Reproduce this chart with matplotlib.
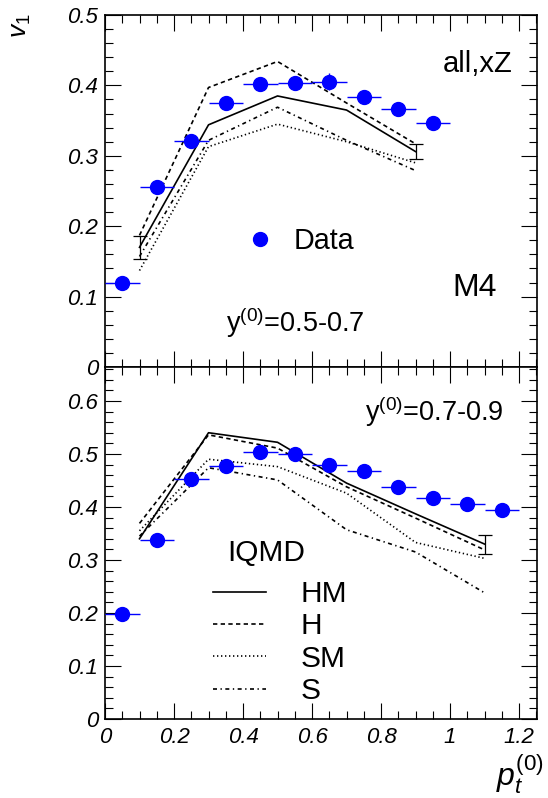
import numpy as np
import matplotlib
matplotlib.use('Agg')
import matplotlib.pyplot as plt
from matplotlib.ticker import MultipleLocator

plt.rcParams['font.family'] = ['Liberation Sans', 'DejaVu Sans']
plt.rcParams['mathtext.fontset'] = 'custom'
plt.rcParams['mathtext.rm'] = 'Liberation Sans'
plt.rcParams['mathtext.it'] = 'Liberation Sans:italic'
plt.rcParams['mathtext.bf'] = 'Liberation Sans:bold'

# ---------------- data: top panel, y(0)=0.5-0.7 ----------------
pt_top = [0.05, 0.15, 0.25, 0.35, 0.45, 0.55, 0.65, 0.75, 0.85, 0.95]
v1_top = [0.119, 0.255, 0.321, 0.375, 0.402, 0.403, 0.405, 0.383, 0.366, 0.347]
v1_top_err = [0.010, 0.004, 0.004, 0.004, 0.004, 0.004, 0.012, 0.004, 0.004, 0.004]

pt_model_top = [0.1, 0.3, 0.5, 0.7, 0.9]
hm_top = [0.170, 0.344, 0.385, 0.365, 0.306]
h_top = [0.187, 0.397, 0.434, 0.375, 0.317]
sm_top = [0.137, 0.313, 0.345, 0.320, 0.290]
s_top = [0.157, 0.322, 0.369, 0.322, 0.279]
hm_top_err = [0.016, 0.0, 0.0, 0.0, 0.011]

# ---------------- data: bottom panel, y(0)=0.7-0.9 ----------------
pt_bot = [0.05, 0.15, 0.25, 0.35, 0.45, 0.55, 0.65, 0.75, 0.85, 0.95, 1.05, 1.15]
v1_bot = [0.198, 0.338, 0.452, 0.478, 0.503, 0.499, 0.479, 0.468, 0.437, 0.417, 0.405, 0.394]
v1_bot_err = [0.012, 0.004, 0.004, 0.004, 0.004, 0.004, 0.004, 0.004, 0.004, 0.004, 0.004, 0.004]

pt_model_bot = [0.1, 0.3, 0.5, 0.7, 0.9, 1.1]
hm_bot = [0.340, 0.540, 0.522, 0.445, 0.387, 0.330]
h_bot = [0.369, 0.536, 0.511, 0.438, 0.379, 0.319]
sm_bot = [0.355, 0.490, 0.476, 0.426, 0.333, 0.303]
s_bot = [0.345, 0.474, 0.451, 0.357, 0.315, 0.238]
hm_bot_err = [0.0, 0.0, 0.0, 0.0, 0.0, 0.018]

pt_bin_halfwidth = 0.05

model_labels = ['HM', 'H', 'SM', 'S']

# ---------------- styling ----------------
W, H = 548, 798
def fx(px):
    return px / W
def fy(py):
    return 1 - py / H

LW = 1.2
styles = {
    'HM': dict(color='black', lw=LW, linestyle='-'),
    'H': dict(color='black', lw=LW, linestyle=(0, (2.6, 2.0))),
    'SM': dict(color='black', lw=LW, linestyle=(0, (0.8, 1.6))),
    'S': dict(color='black', lw=LW, linestyle=(0, (2.4, 2.1, 0.8, 2.1))),
}
BLUE = '#0000ff'

fig = plt.figure(figsize=(W / 100, H / 100), dpi=100)
left, right = 105, 537
ax1 = fig.add_axes([fx(left), fy(367), (right - left) / W, (367 - 15) / H])
ax2 = fig.add_axes([fx(left), fy(719), (right - left) / W, (719 - 367) / H])


def draw_panel(ax, pt, v, verr, ptm, models, hm_err):
    handles = {}
    for name, vals in zip(model_labels, models):
        ln, = ax.plot(ptm, vals, zorder=2, **styles[name])
        handles[name] = ln
    # model error bars (end points)
    sel = [i for i, e in enumerate(hm_err) if e > 0]
    ax.errorbar([ptm[i] for i in sel], [models[0][i] for i in sel],
                yerr=[hm_err[i] for i in sel], fmt='none', ecolor='black',
                elinewidth=0.9, capsize=5, capthick=0.9, zorder=2)
    eb = ax.errorbar(pt, v, xerr=pt_bin_halfwidth, yerr=verr, fmt='o',
                     color=BLUE, ms=10, mec=BLUE, mfc=BLUE, ecolor=BLUE,
                     elinewidth=1.0, capsize=0, zorder=5)
    return handles, eb


models_top = [hm_top, h_top, sm_top, s_top]
models_bot = [hm_bot, h_bot, sm_bot, s_bot]
h_top_handles, eb_top = draw_panel(ax1, pt_top, v1_top, v1_top_err, pt_model_top, models_top, hm_top_err)
h_bot_handles, eb_bot = draw_panel(ax2, pt_bot, v1_bot, v1_bot_err, pt_model_bot, models_bot, hm_bot_err)

# axes limits and ticks
xticks = np.round(np.arange(0, 1.21, 0.2), 2)
xticklabels = ['%g' % t for t in xticks]
for ax, ytop, ymaj in [(ax1, 0.5, np.round(np.arange(0, 0.51, 0.1), 2)),
                       (ax2, 0.664, np.round(np.arange(0, 0.61, 0.1), 2))]:
    ax.set_xlim(0, 1.252)
    ax.set_ylim(0, ytop)
    ax.set_xticks(xticks, xticklabels, fontstyle='italic')
    ax.set_yticks(ymaj, ['%g' % t for t in ymaj], fontstyle='italic')
    ax.xaxis.set_minor_locator(MultipleLocator(0.05))
    ax.yaxis.set_minor_locator(MultipleLocator(0.02))
    ax.tick_params(which='major', direction='in', length=11.5, width=0.8,
                   top=True, right=True, labelsize=16, pad=5)
    ax.tick_params(which='minor', direction='in', length=5.5, width=0.8,
                   top=True, right=True)
    for sp in ax.spines.values():
        sp.set_linewidth(1.2)
ax1.tick_params(labelbottom=False)
ax2.tick_params(axis='x', which='major', pad=6)

# legends
leg1 = ax1.legend(handles=[eb_top[0]], labels=['Data'], loc='center left',
                  bbox_to_anchor=(fx(246), fy(241)), bbox_transform=fig.transFigure,
                  frameon=False, fontsize=20.7, handlelength=1.0, handletextpad=0.66,
                  borderpad=0, borderaxespad=0, numpoints=1)

leg2 = ax2.legend(handles=[h_bot_handles[n] for n in model_labels], labels=model_labels,
                  loc='upper left', bbox_to_anchor=(fx(213), fy(580)),
                  bbox_transform=fig.transFigure, frameon=False, fontsize=21.5,
                  handlelength=1.79, handletextpad=1.13, labelspacing=0.145,
                  borderpad=0, borderaxespad=0)

# texts
fig.text(fx(227), fy(561), 'IQMD', ha='left', va='baseline', fontsize=21.5)
fig.text(fx(513), fy(72), 'all,xZ', ha='right', va='baseline', fontsize=21)
fig.text(fx(497), fy(296), 'M4', ha='right', va='baseline', fontsize=23)
fig.text(fx(226), fy(332), r'y$^{(0)}$=0.5-0.7', ha='left', va='baseline', fontsize=19.5)
fig.text(fx(365), fy(421), r'y$^{(0)}$=0.7-0.9', ha='left', va='baseline', fontsize=19.5)

# axis titles
fig.text(fx(21), fy(13), r'$\mathit{v_1}$', rotation=90, ha='center', va='top', fontsize=19)
fig.text(fx(544), fy(796), r'$\mathit{p_t^{(0)}}$', ha='right', va='bottom', fontsize=23)

fig.savefig('out.png', dpi=100)
